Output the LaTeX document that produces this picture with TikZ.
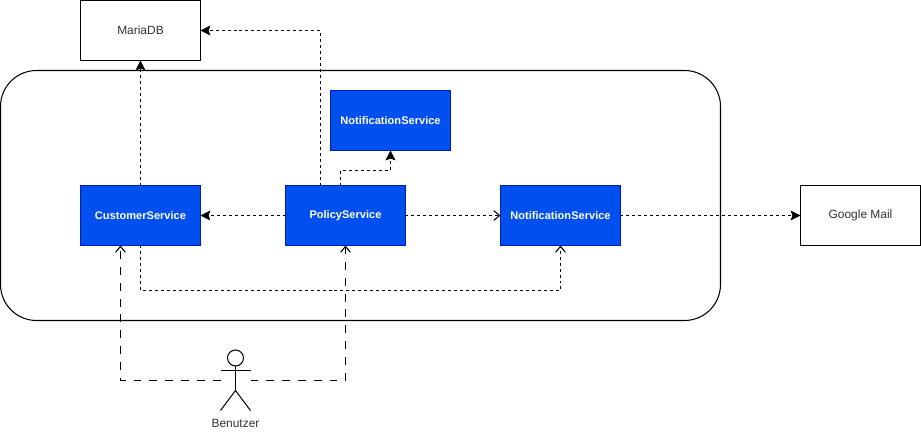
\documentclass[tikz,border=0pt]{standalone}
\usepackage{fontspec}
\setmainfont{Liberation Sans}
\definecolor{serviceblue}{RGB}{0, 80, 239}
\definecolor{serviceedge}{RGB}{0, 29, 188}
\usetikzlibrary{arrows.meta, positioning}
\tikzset{
  svcbox/.style={draw=serviceedge, fill=serviceblue, text=white, line width=0.57pt,
    minimum width=2.4cm, minimum height=1.2cm, inner sep=0pt, outer sep=0pt,
    font=\fontsize{6.3}{8}\selectfont\bfseries},
  extbox/.style={draw, fill=white, text=black!80, line width=0.6pt,
    minimum width=2.4cm, minimum height=1.2cm, inner sep=0pt, outer sep=0pt,
    font=\fontsize{6.8}{8}\selectfont},
  shortdash/.style={line width=0.6pt, dash pattern=on 1.7pt off 1.7pt},
  longdash/.style={line width=0.6pt, dash pattern=on 4.5pt off 4.5pt},
  filledtip/.style={-{Stealth[length=5.6pt, width=5.6pt, inset=1pt]}},
  opentip/.style={-{Straight Barb[length=3.4pt, width=5.6pt]}},
}

\begin{document}
\begin{tikzpicture}
    \useasboundingbox (0,0) rectangle (18.42,-8.64);

    % Cluster
    \node[draw, line width=0.6pt, rounded corners=0.72cm, minimum width=14.4cm,
          minimum height=5cm, inner sep=0pt, outer sep=0pt] (cluster) at (7.21,-3.91) {};

    % External systems
    \node[extbox] (mariadb) at (2.81,-0.61) {MariaDB};
    \node[extbox] (googlemail) at (17.21,-4.31) {Google Mail};

    % Services
    \node[svcbox] (customer) at (2.81,-4.31) {CustomerService};
    \node[svcbox] (policy) at (6.91,-4.31) {PolicyService};
    \node[svcbox] (notifyright) at (11.21,-4.31) {NotificationService};
    \node[svcbox] (notifytop) at (7.81,-2.41) {NotificationService};

    % Actor
    \node[draw, circle, line width=0.6pt, minimum size=0.32cm, inner sep=0pt,
          outer sep=0pt] (head) at (4.71,-7.16) {};
    \coordinate (hip) at (4.71,-7.81);
    \coordinate (armleft) at (4.41,-7.41);
    \coordinate (armright) at (5.01,-7.41);
    \coordinate (linkleft) at (4.41,-7.61);
    \coordinate (linkright) at (5.01,-7.61);
    \coordinate (footleft) at (4.41,-8.21);
    \coordinate (footright) at (5.01,-8.21);
    \node[font=\fontsize{6.8}{8}\selectfont, text=black!80, inner sep=0pt] (benutzer) at (4.71,-8.47) {Benutzer};
    \draw[line width=0.6pt] (head.south) -- (hip);
    \draw[line width=0.6pt] (armleft) -- (armright);
    \draw[line width=0.6pt] (footleft) -- (hip) -- (footright);

    % Service links
    \draw[shortdash, filledtip] (customer.north) -- (mariadb.south);
    \draw[shortdash, filledtip] ([xshift=-0.5cm]policy.north) |- (mariadb.east);
    \draw[shortdash, filledtip] ([xshift=-0.1cm]policy.north) -- ++(0,0.3) -| (notifytop.south);
    \draw[shortdash, filledtip] (policy.west) -- (customer.east);
    \draw[shortdash, opentip] (policy.east) -- (notifyright.west);
    \draw[shortdash, filledtip] (notifyright.east) -- (googlemail.west);
    \draw[shortdash, opentip] (customer.south) -- ++(0,-0.9) -| (notifyright.south);

    % User links
    \draw[longdash, opentip] (linkleft) -| ([xshift=-0.4cm]customer.south);
    \draw[longdash, opentip] (linkright) -| (policy.south);
\end{tikzpicture}
\end{document}
